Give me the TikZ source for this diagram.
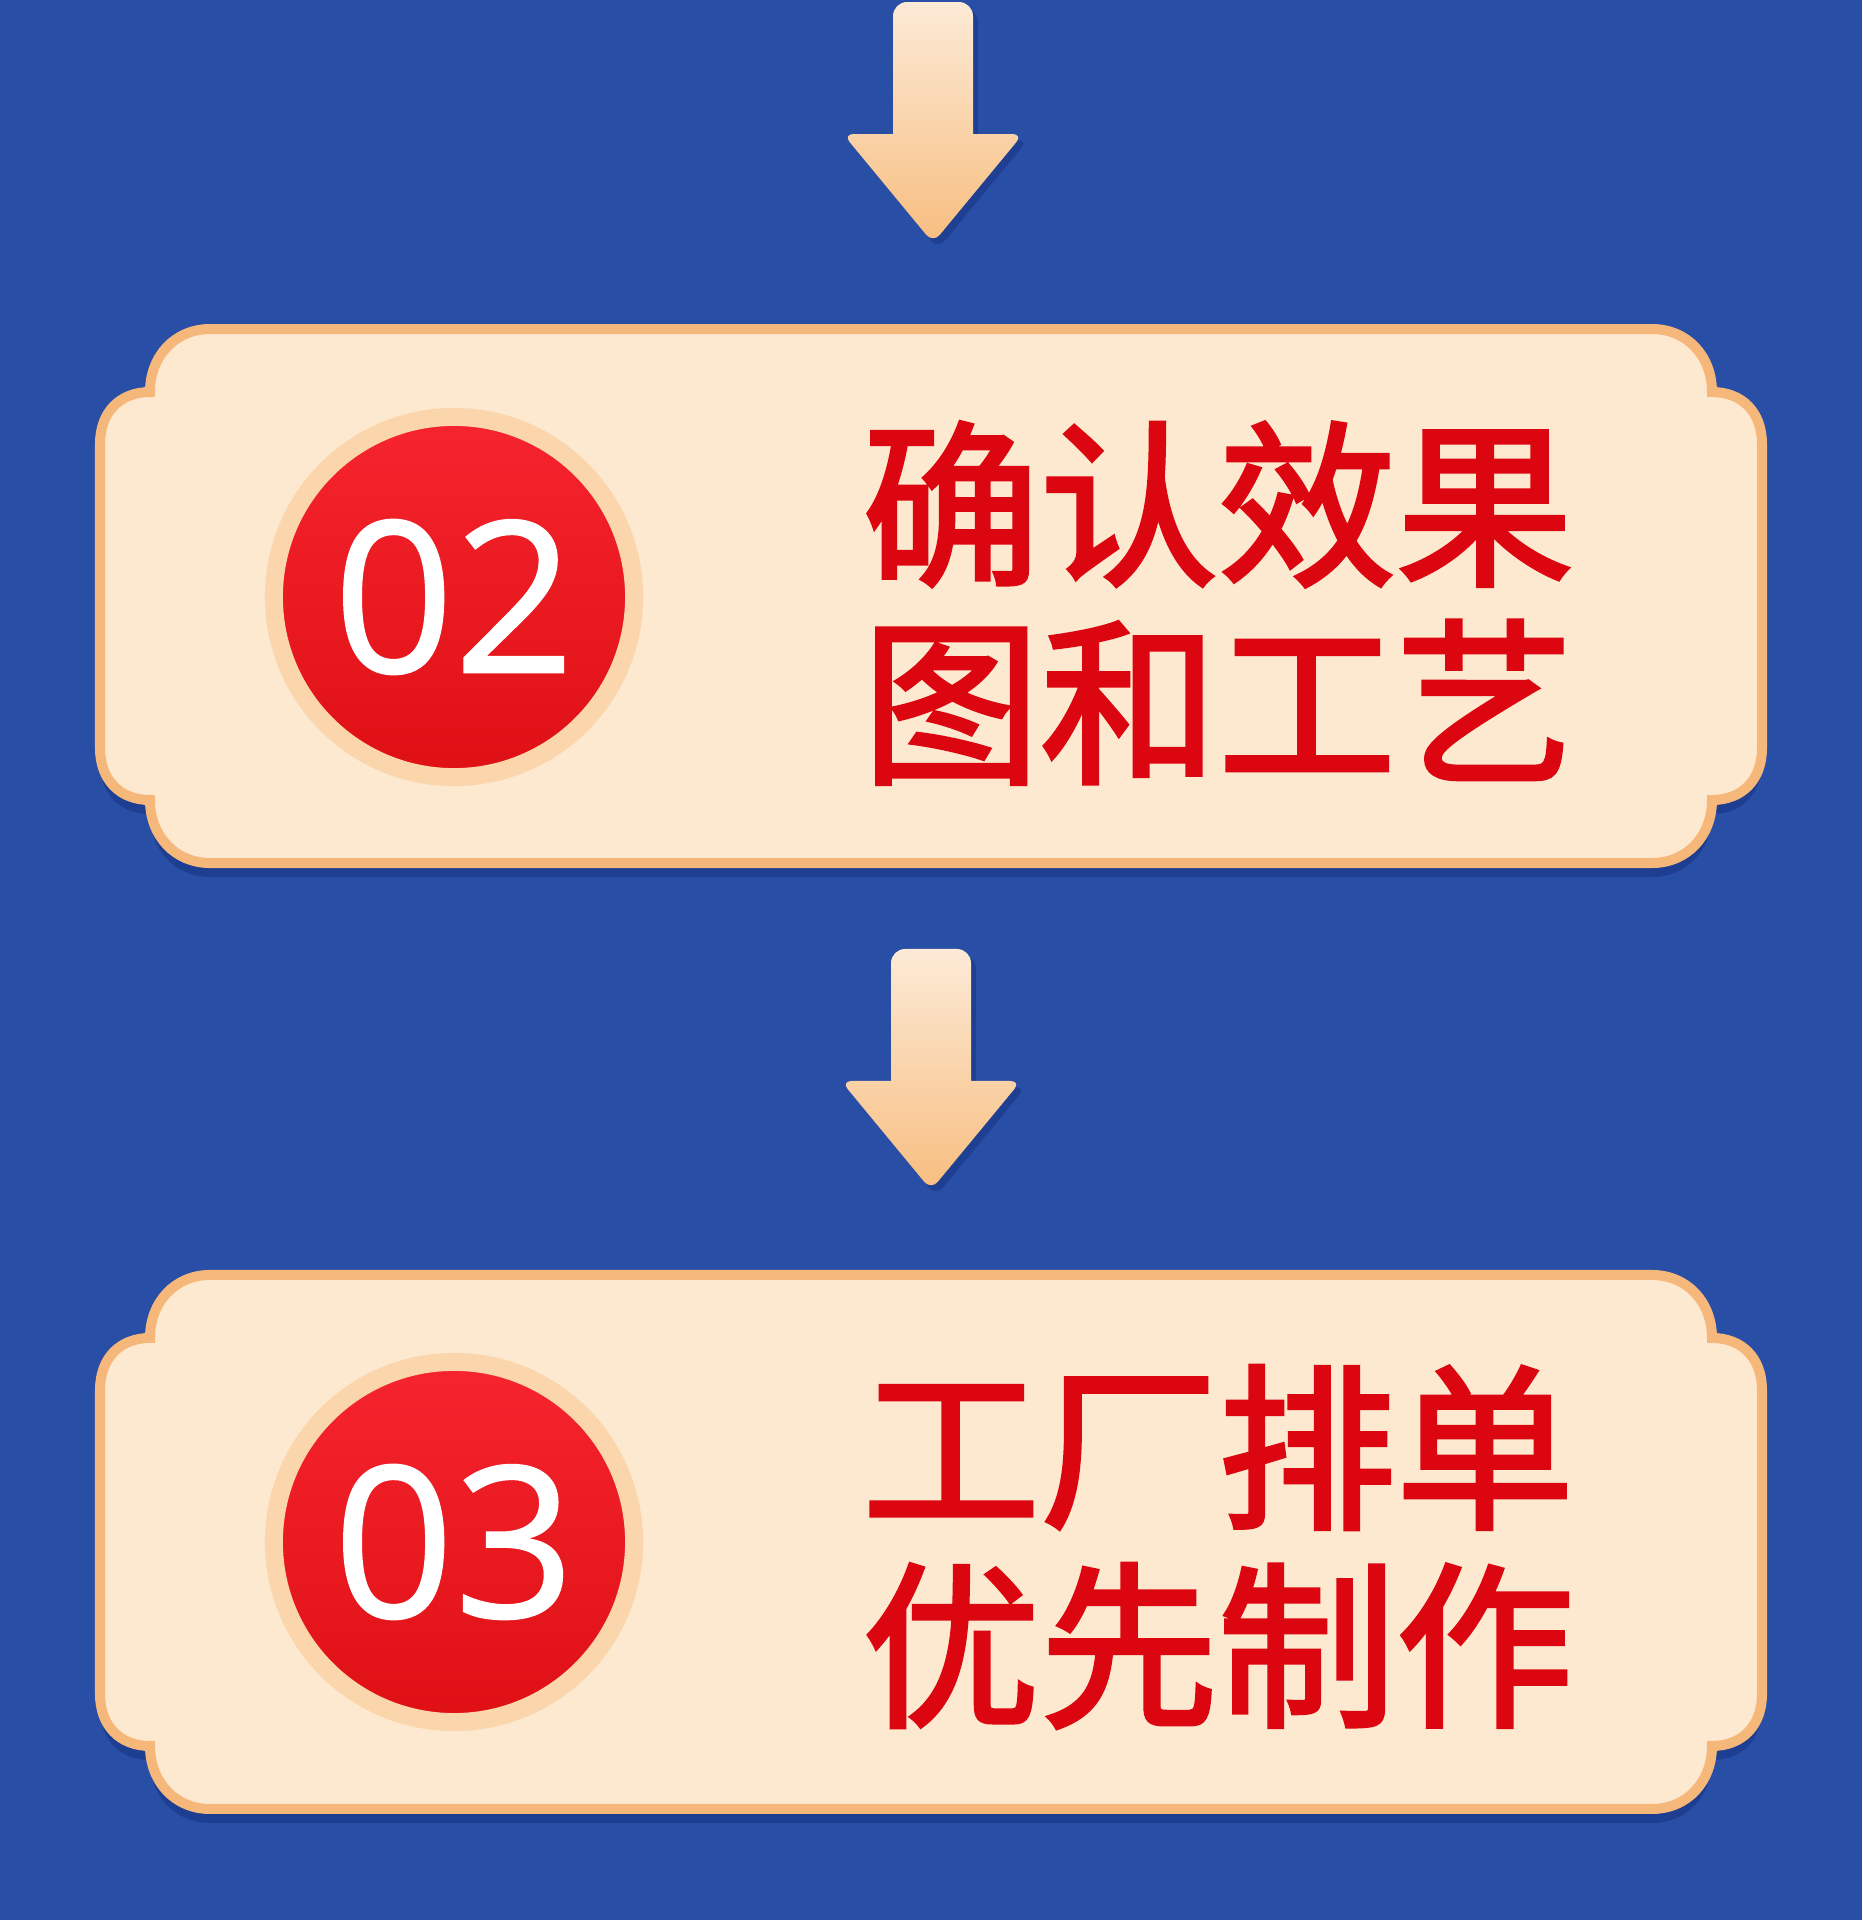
\documentclass[tikz,border=0pt]{standalone}
\usepackage{fontspec}
\usetikzlibrary{positioning,calc}
\newfontfamily\cjk{Noto Sans CJK SC}[FakeBold=2.2]
\newfontfamily\numfont{Open Sans}[FakeBold=0.8]
\definecolor{bgblue}{RGB}{41,78,166}
\definecolor{shadowblue}{RGB}{22,50,130}
\definecolor{cream}{RGB}{253,232,208}
\definecolor{rimorange}{RGB}{246,183,122}
\definecolor{ringpeach}{RGB}{251,214,172}
\definecolor{redtop}{RGB}{246,36,46}
\definecolor{redbot}{RGB}{222,16,20}
\definecolor{textred}{RGB}{220,6,16}
\definecolor{arrowtop}{RGB}{252,234,214}
\definecolor{arrowbot}{RGB}{247,190,128}

\tikzset{
  frame path/.style={insert path={
    (-721,-267) -- (721,-267)
    .. controls (756,-267) and (781,-240) .. (781,-204)
    .. controls (811,-204) and (831,-184) .. (831,-152)
    -- (831,152)
    .. controls (831,184) and (811,204) .. (781,204)
    .. controls (781,240) and (756,267) .. (721,267)
    -- (-721,267)
    .. controls (-756,267) and (-781,240) .. (-781,204)
    .. controls (-811,204) and (-831,184) .. (-831,152)
    -- (-831,-152)
    .. controls (-831,-184) and (-811,-204) .. (-781,-204)
    .. controls (-781,-240) and (-756,-267) .. (-721,-267) -- cycle}},
  arrow path/.style={insert path={
    (0,-120) [rounded corners=4] -- (40,-120) [sharp corners] -- (40,12)
    [rounded corners=3] -- (90,12) -- (0,121) -- (-90,12) [sharp corners]
    -- (-40,12) [rounded corners=4] -- (-40,-120) [sharp corners] -- cycle}},
  scroll frame/.pic={
    \fill[shadowblue, opacity=.55, shift={(0,14)}, frame path];
    \path[fill=cream, draw=rimorange, line width=0.1cm, frame path];
  },
  down arrow/.pic={
    \fill[shadowblue, opacity=.5, shift={(5,6)}, arrow path];
    \shade[top color=arrowtop, bottom color=arrowbot, arrow path];
  },
  panel/.style={minimum width=16.73cm, minimum height=5.45cm, inner sep=0},
  badge/.style={circle, inner sep=0, minimum size=3.6cm, draw=ringpeach,
    line width=0.18cm, top color=redtop, bottom color=redbot, text=white,
    font=\numfont\fontsize{60}{60}\selectfont},
  steptext/.style={align=center, inner sep=0, text=textred,
    font=\cjk\fontsize{50.6}{56.3}\selectfont}
}

\begin{document}
\begin{tikzpicture}[x=0.01cm, y=-0.01cm]
  \fill[bgblue] (0,0) rectangle (1862,1920);
  \useasboundingbox (0,0) rectangle (1862,1920);

  % step 02
  \coordinate (a1) at (933,122);
  \pic at (a1) {down arrow};
  \node[panel] (p2) at (931,596) {};
  \pic at (p2.center) {scroll frame};
  \node[badge] (b2) at (454,597) {02};
  \node[steptext] (t2) at (1218,603) {确认效果\\图和工艺};

  % step 03
  \node[panel, below=3.99cm of p2] (p3) {};
  \pic at (p3.center) {scroll frame};
  \coordinate (a2) at ($(p2.south)!0.5!(p3.north)$);
  \pic at (a2) {down arrow};
  \node[badge] (b3) at (b2 |- p3) {03};
  \node[steptext] (t3) at ($(t2 |- p3)+(0,5)$) {工厂排单\\优先制作};
\end{tikzpicture}
\end{document}
